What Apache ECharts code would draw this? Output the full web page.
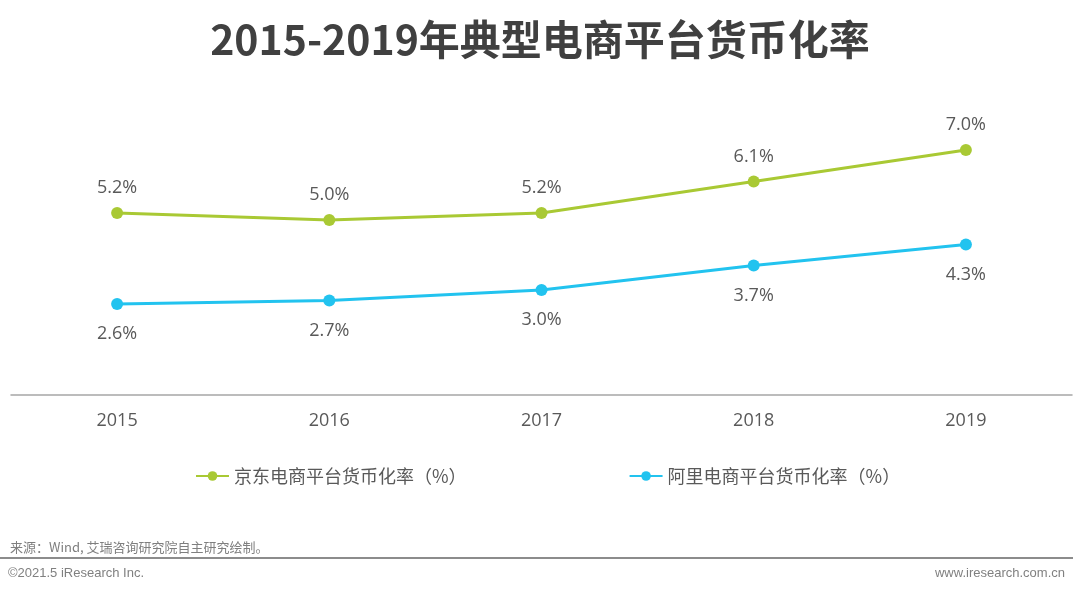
<!DOCTYPE html>
<html>
<head>
<meta charset="utf-8">
<script src="https://cdn.jsdelivr.net/npm/echarts@6/dist/echarts.min.js"></script>
<style>html,body{margin:0;padding:0;background:#fff}#c{width:1080px;height:594px}</style>
</head>
<body>
<div id="c"></div>
<script>
var titleText = '2015-2019年典型电商平台货币化率';
var years = ['2015', '2016', '2017', '2018', '2019'];
var jdName = '京东电商平台货币化率（%）';
var aliName = '阿里电商平台货币化率（%）';
var jdValues = [5.2, 5.0, 5.2, 6.1, 7.0];
var aliValues = [2.6, 2.7, 3.0, 3.7, 4.3];
var sourceText = '来源：Wind, 艾瑞咨询研究院自主研究绘制。';
var footerLeft = '©2021.5 iResearch Inc.';
var footerRight = 'www.iresearch.com.cn';

var FONT = "'Open Sans', 'Noto Sans CJK SC', sans-serif";
var chart = echarts.init(document.getElementById('c'));
chart.setOption({
  backgroundColor: '#ffffff',
  animation: false,
  title: {
    text: titleText,
    left: 'center',
    top: 14,
    textStyle: { fontFamily: "'Noto Sans CJK SC', sans-serif", fontWeight: 'bold', fontSize: 41, color: '#404040' }
  },
  legend: {
    top: 462,
    left: 190,
    itemGap: 162,
    itemWidth: 33,
    itemHeight: 12,
    textStyle: { fontFamily: "'Noto Sans CJK SC', sans-serif", fontSize: 18, color: '#595959' },
    data: [jdName, aliName]
  },
  grid: { left: 11, right: 8, top: 115, bottom: 199, containLabel: false },
  xAxis: {
    type: 'category',
    data: years,
    boundaryGap: true,
    axisLine: { lineStyle: { color: '#a6a6a6', width: 1.5 } },
    axisTick: { show: false },
    axisLabel: { margin: 17, fontFamily: FONT, fontSize: 18, color: '#595959' }
  },
  yAxis: {
    type: 'value',
    min: 0,
    max: 8,
    show: false,
    splitLine: { show: false }
  },
  series: [
    {
      name: jdName,
      type: 'line',
      data: jdValues,
      symbol: 'circle',
      symbolSize: 12,
      lineStyle: { width: 3, color: '#a9c934' },
      itemStyle: { color: '#a9c934' },
      label: {
        show: true, position: 'top', distance: 10,
        formatter: function (p) { return p.value.toFixed(1) + '%'; },
        fontFamily: FONT, fontSize: 18, color: '#595959'
      }
    },
    {
      name: aliName,
      type: 'line',
      data: aliValues,
      symbol: 'circle',
      symbolSize: 12,
      lineStyle: { width: 3, color: '#22c3ef' },
      itemStyle: { color: '#22c3ef' },
      label: {
        show: true, position: 'bottom', distance: 15,
        formatter: function (p) { return p.value.toFixed(1) + '%'; },
        fontFamily: FONT, fontSize: 18, color: '#595959'
      }
    }
  ],
  graphic: [
    {
      type: 'text', left: 10, top: 541,
      style: { text: sourceText, font: "13px 'Noto Sans CJK SC', sans-serif", fill: '#7f7f7f' }
    },
    {
      type: 'line', shape: { x1: 0, y1: 558, x2: 1073, y2: 558 },
      style: { stroke: '#8c8c8c', lineWidth: 2 }
    },
    {
      type: 'text', left: 8, top: 567,
      style: { text: footerLeft, font: "13px 'Liberation Sans', Arial, sans-serif", fill: '#808080' }
    },
    {
      type: 'text', right: 15, top: 567,
      style: { text: footerRight, font: "13px 'Liberation Sans', Arial, sans-serif", fill: '#808080' }
    }
  ]
});
</script>
</body>
</html>
